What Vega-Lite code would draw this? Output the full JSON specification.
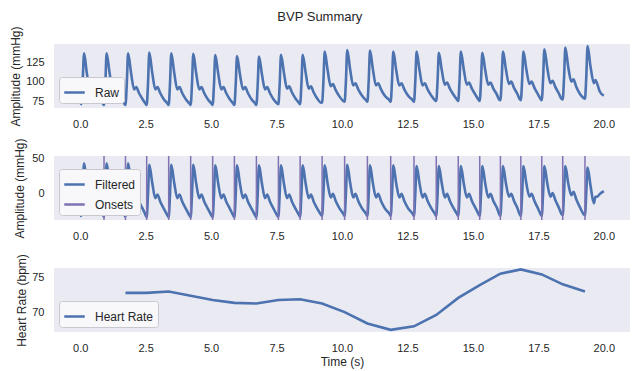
{
  "$schema": "https://vega.github.io/schema/vega-lite/v6.json",
  "background": "white",
  "padding": {"left": 9, "top": 10, "right": 5, "bottom": 5},
  "title": {"text": "BVP Summary", "fontSize": 13, "font": "Liberation Sans", "fontWeight": "normal", "color": "#262626", "anchor": "middle", "frame": "bounds", "offset": 2},
  "config": {
    "font": "Liberation Sans",
    "view": {"fill": "#EAEAF2", "stroke": null},
    "axis": {"domain": false, "ticks": false, "grid": false, "labelFont": "Liberation Sans", "labelFontSize": 11, "labelColor": "#262626", "titleFont": "Liberation Sans", "titleFontSize": 12, "titleFontWeight": "normal", "titleColor": "#262626", "labelPadding": 10},
    "legend": {"orient": "bottom-left", "offset": 5, "fillColor": "#F8F8FB", "strokeColor": "#C8C8CE", "cornerRadius": 3, "padding": 4, "labelFontSize": 12, "labelFont": "Liberation Sans", "labelColor": "#262626", "symbolType": "stroke", "symbolSize": 420, "symbolStrokeWidth": 2.5, "labelOffset": 9, "rowPadding": 2}
  },
  "datasets": {
    "bvp": [
      {"t":0.00,"r":73,"f":-28},{"t":0.04,"r":71,"f":-31},{"t":0.09,"r":97,"f":3},{"t":0.15,"r":136.6,"f":43},{"t":0.25,"r":112,"f":16},{"t":0.37,"r":90,"f":-6},{"t":0.45,"r":93,"f":-1},{"t":0.56,"r":85,"f":-11},{"t":0.70,"r":77,"f":-21},{"t":0.86,"r":72,"f":-29},
      {"t":0.91,"r":70,"f":-32},{"t":0.96,"r":97,"f":0},{"t":1.01,"r":136.6,"f":43},{"t":1.12,"r":112,"f":16},{"t":1.24,"r":90,"f":-6},{"t":1.32,"r":93,"f":-1},{"t":1.43,"r":85,"f":-11},{"t":1.57,"r":77,"f":-21},{"t":1.68,"r":72,"f":-29},
      {"t":1.73,"r":70,"f":-32},{"t":1.78,"r":97,"f":0},{"t":1.83,"r":136.6,"f":43},{"t":1.94,"r":112,"f":16},{"t":2.06,"r":90,"f":-6},{"t":2.14,"r":93,"f":-1},{"t":2.25,"r":85,"f":-11},{"t":2.39,"r":77,"f":-21},{"t":2.49,"r":72,"f":-29},
      {"t":2.54,"r":70,"f":-33},{"t":2.59,"r":97,"f":-1},{"t":2.64,"r":137.5,"f":41},{"t":2.75,"r":112,"f":16},{"t":2.87,"r":90,"f":-6},{"t":2.95,"r":93,"f":-1},{"t":3.06,"r":85,"f":-11},{"t":3.20,"r":77,"f":-21},{"t":3.33,"r":72,"f":-30},
      {"t":3.38,"r":70,"f":-33},{"t":3.43,"r":97,"f":-1},{"t":3.48,"r":136.6,"f":41},{"t":3.59,"r":112,"f":16},{"t":3.71,"r":90,"f":-6},{"t":3.79,"r":93,"f":-1},{"t":3.90,"r":85,"f":-11},{"t":4.04,"r":77,"f":-21},{"t":4.17,"r":72,"f":-30},
      {"t":4.22,"r":70,"f":-33},{"t":4.27,"r":97,"f":-1},{"t":4.32,"r":135.8,"f":41},{"t":4.43,"r":111,"f":15},{"t":4.55,"r":90,"f":-6},{"t":4.63,"r":93,"f":-1},{"t":4.74,"r":85,"f":-11},{"t":4.88,"r":77,"f":-21},{"t":5.01,"r":72,"f":-30},
      {"t":5.06,"r":70,"f":-33},{"t":5.11,"r":96,"f":-1},{"t":5.16,"r":134.5,"f":40},{"t":5.27,"r":111,"f":15},{"t":5.39,"r":90,"f":-6},{"t":5.47,"r":93,"f":-1},{"t":5.58,"r":85,"f":-11},{"t":5.72,"r":77,"f":-21},{"t":5.84,"r":72,"f":-30},
      {"t":5.89,"r":70,"f":-33},{"t":5.94,"r":96,"f":-1},{"t":5.99,"r":133.2,"f":40},{"t":6.10,"r":110,"f":15},{"t":6.22,"r":90,"f":-6},{"t":6.30,"r":93,"f":-1},{"t":6.41,"r":85,"f":-11},{"t":6.55,"r":77,"f":-21},{"t":6.68,"r":72,"f":-30},
      {"t":6.73,"r":70,"f":-33},{"t":6.78,"r":96,"f":-1},{"t":6.83,"r":132.3,"f":40},{"t":6.94,"r":110,"f":15},{"t":7.06,"r":90,"f":-6},{"t":7.14,"r":93,"f":-1},{"t":7.25,"r":85,"f":-11},{"t":7.39,"r":77,"f":-21},{"t":7.52,"r":72,"f":-30},
      {"t":7.57,"r":71,"f":-32},{"t":7.62,"r":97,"f":0},{"t":7.67,"r":134.5,"f":40},{"t":7.78,"r":112,"f":15},{"t":7.90,"r":91,"f":-6},{"t":7.98,"r":94,"f":-1},{"t":8.09,"r":86,"f":-11},{"t":8.23,"r":78,"f":-21},{"t":8.35,"r":73,"f":-29},
      {"t":8.40,"r":71,"f":-32},{"t":8.45,"r":97,"f":0},{"t":8.50,"r":134.5,"f":40},{"t":8.61,"r":112,"f":15},{"t":8.73,"r":91,"f":-6},{"t":8.81,"r":94,"f":-1},{"t":8.92,"r":86,"f":-11},{"t":9.06,"r":78,"f":-21},{"t":9.19,"r":73,"f":-29},
      {"t":9.24,"r":73,"f":-31},{"t":9.29,"r":100,"f":0},{"t":9.34,"r":138.7,"f":40},{"t":9.45,"r":115,"f":15},{"t":9.57,"r":94,"f":-5},{"t":9.65,"r":97,"f":0},{"t":9.76,"r":89,"f":-10},{"t":9.90,"r":81,"f":-20},{"t":10.05,"r":75,"f":-28},
      {"t":10.10,"r":74,"f":-31},{"t":10.15,"r":101,"f":1},{"t":10.20,"r":140.9,"f":41},{"t":10.31,"r":116,"f":16},{"t":10.43,"r":95,"f":-5},{"t":10.51,"r":98,"f":0},{"t":10.62,"r":90,"f":-10},{"t":10.76,"r":82,"f":-20},{"t":10.92,"r":76,"f":-28},
      {"t":10.97,"r":74,"f":-31},{"t":11.02,"r":101,"f":0},{"t":11.07,"r":140,"f":40},{"t":11.18,"r":116,"f":15},{"t":11.30,"r":95,"f":-5},{"t":11.38,"r":98,"f":0},{"t":11.49,"r":90,"f":-10},{"t":11.63,"r":82,"f":-20},{"t":11.81,"r":76,"f":-28},
      {"t":11.86,"r":74,"f":-31},{"t":11.91,"r":101,"f":0},{"t":11.96,"r":138.7,"f":40},{"t":12.07,"r":115,"f":15},{"t":12.19,"r":95,"f":-5},{"t":12.27,"r":98,"f":0},{"t":12.38,"r":90,"f":-10},{"t":12.52,"r":82,"f":-20},{"t":12.70,"r":76,"f":-28},
      {"t":12.75,"r":74,"f":-31},{"t":12.80,"r":101,"f":0},{"t":12.85,"r":138.7,"f":39},{"t":12.96,"r":115,"f":15},{"t":13.08,"r":95,"f":-5},{"t":13.16,"r":98,"f":0},{"t":13.27,"r":90,"f":-10},{"t":13.41,"r":82,"f":-20},{"t":13.55,"r":76,"f":-28},
      {"t":13.60,"r":75,"f":-31},{"t":13.65,"r":101,"f":0},{"t":13.70,"r":137.4,"f":39},{"t":13.81,"r":115,"f":15},{"t":13.93,"r":96,"f":-5},{"t":14.01,"r":99,"f":0},{"t":14.12,"r":91,"f":-10},{"t":14.26,"r":83,"f":-20},{"t":14.39,"r":77,"f":-28},
      {"t":14.44,"r":75,"f":-31},{"t":14.49,"r":102,"f":0},{"t":14.54,"r":138.7,"f":39},{"t":14.65,"r":116,"f":15},{"t":14.77,"r":96,"f":-5},{"t":14.85,"r":99,"f":0},{"t":14.96,"r":91,"f":-10},{"t":15.10,"r":83,"f":-20},{"t":15.21,"r":77,"f":-28},
      {"t":15.26,"r":75,"f":-31},{"t":15.31,"r":101,"f":0},{"t":15.36,"r":137.4,"f":39},{"t":15.47,"r":115,"f":15},{"t":15.59,"r":96,"f":-5},{"t":15.67,"r":99,"f":0},{"t":15.78,"r":91,"f":-10},{"t":15.92,"r":83,"f":-20},{"t":16.00,"r":77,"f":-28},
      {"t":16.05,"r":76,"f":-31},{"t":16.10,"r":102,"f":0},{"t":16.15,"r":138.7,"f":39},{"t":16.26,"r":116,"f":15},{"t":16.38,"r":97,"f":-4},{"t":16.46,"r":100,"f":0},{"t":16.57,"r":92,"f":-10},{"t":16.70,"r":84,"f":-20},{"t":16.78,"r":78,"f":-28},
      {"t":16.83,"r":76,"f":-31},{"t":16.88,"r":102,"f":0},{"t":16.93,"r":138.7,"f":39},{"t":17.04,"r":116,"f":15},{"t":17.16,"r":97,"f":-4},{"t":17.24,"r":100,"f":0},{"t":17.35,"r":92,"f":-10},{"t":17.48,"r":84,"f":-20},{"t":17.58,"r":78,"f":-28},
      {"t":17.63,"r":76,"f":-31},{"t":17.68,"r":103,"f":0},{"t":17.73,"r":141.7,"f":39},{"t":17.84,"r":118,"f":15},{"t":17.96,"r":98,"f":-4},{"t":18.04,"r":101,"f":1},{"t":18.15,"r":93,"f":-9},{"t":18.28,"r":85,"f":-19},{"t":18.38,"r":78,"f":-28},
      {"t":18.43,"r":77,"f":-30},{"t":18.48,"r":104,"f":1},{"t":18.53,"r":143.9,"f":39},{"t":18.64,"r":119,"f":15},{"t":18.76,"r":100,"f":-2},{"t":18.84,"r":103,"f":3},{"t":18.95,"r":93,"f":-8},{"t":19.09,"r":84,"f":-19},{"t":19.22,"r":79,"f":-28},
      {"t":19.28,"r":78,"f":-30},{"t":19.33,"r":106,"f":2},{"t":19.38,"r":146,"f":37},{"t":19.49,"r":120,"f":12},{"t":19.62,"r":98,"f":-13},{"t":19.68,"r":102,"f":-4},{"t":19.75,"r":97,"f":-4},{"t":19.85,"r":87,"f":0},{"t":20.00,"r":82,"f":4}
    ],
    "onsets": [
      {"t":0.91},{"t":1.73},{"t":2.54},{"t":3.38},{"t":4.22},{"t":5.06},{"t":5.89},{"t":6.73},{"t":7.57},{"t":8.40},{"t":9.24},{"t":10.10},{"t":10.97},{"t":11.86},{"t":12.75},{"t":13.60},{"t":14.44},{"t":15.26},{"t":16.05},{"t":16.83},{"t":17.63},{"t":18.43},{"t":19.28}
    ],
    "hr": [
      {"t":1.73,"hr":72.8},{"t":2.54,"hr":72.8},{"t":3.38,"hr":73.0},{"t":4.22,"hr":72.4},{"t":5.06,"hr":71.8},{"t":5.89,"hr":71.4},{"t":6.73,"hr":71.3},{"t":7.57,"hr":71.8},{"t":8.40,"hr":71.9},{"t":9.24,"hr":71.3},{"t":10.10,"hr":70.1},{"t":10.97,"hr":68.5},{"t":11.86,"hr":67.6},{"t":12.75,"hr":68.1},{"t":13.60,"hr":69.7},{"t":14.44,"hr":72.1},{"t":15.26,"hr":73.9},{"t":16.05,"hr":75.5},{"t":16.83,"hr":76.1},{"t":17.63,"hr":75.4},{"t":18.43,"hr":74.0},{"t":19.28,"hr":73.0}
    ]
  },
  "spacing": 48,
  "bounds": "flush",
  "resolve": {"scale": {"color": "independent", "x": "independent", "y": "independent"}, "legend": {"color": "independent"}},
  "vconcat": [
    {
      "width": 576, "height": 64,
      "data": {"name": "bvp"},
      "mark": {"type": "line", "strokeWidth": 2.6, "interpolate": "monotone"},
      "encoding": {
        "x": {"field": "t", "type": "quantitative", "scale": {"domain": [-1, 21], "nice": false, "zero": false}, "axis": {"values": [0, 2.5, 5, 7.5, 10, 12.5, 15, 17.5, 20], "format": ".1f", "title": null}},
        "y": {"field": "r", "type": "quantitative", "scale": {"domain": [66, 148.6], "nice": false, "zero": false}, "axis": {"values": [75, 100, 125], "title": "Amplitude (mmHg)", "titlePadding": 3}},
        "color": {"datum": "Raw", "type": "nominal", "scale": {"domain": ["Raw"], "range": ["#4C72B0"]}, "legend": {"title": null}}
      }
    },
    {
      "width": 576, "height": 64,
      "layer": [
        {
          "data": {"name": "bvp"},
          "mark": {"type": "line", "strokeWidth": 2.6, "interpolate": "monotone"},
          "encoding": {
            "x": {"field": "t", "type": "quantitative", "scale": {"domain": [-1, 21], "nice": false, "zero": false}, "axis": {"values": [0, 2.5, 5, 7.5, 10, 12.5, 15, 17.5, 20], "format": ".1f", "title": null}},
            "y": {"field": "f", "type": "quantitative", "scale": {"domain": [-36.7, 53.2], "nice": false, "zero": false}, "axis": {"values": [0, 50], "title": "Amplitude (mmHg)", "titlePadding": 5}},
            "color": {"datum": "Filtered", "type": "nominal", "scale": {"domain": ["Filtered", "Onsets"], "range": ["#4C72B0", "#8172B3"]}, "legend": {"title": null}}
          }
        },
        {
          "data": {"name": "onsets"},
          "mark": {"type": "rule", "strokeWidth": 1.5},
          "encoding": {
            "x": {"field": "t", "type": "quantitative"},
            "color": {"datum": "Onsets", "type": "nominal"}
          }
        }
      ]
    },
    {
      "width": 576, "height": 64,
      "data": {"name": "hr"},
      "mark": {"type": "line", "strokeWidth": 2.6},
      "encoding": {
        "x": {"field": "t", "type": "quantitative", "scale": {"domain": [-1, 21], "nice": false, "zero": false}, "axis": {"values": [0, 2.5, 5, 7.5, 10, 12.5, 15, 17.5, 20], "format": ".1f", "title": "Time (s)", "titlePadding": 3}},
        "y": {"field": "hr", "type": "quantitative", "scale": {"domain": [67.3, 76.3], "nice": false, "zero": false}, "axis": {"values": [70, 75], "title": "Heart Rate (bpm)", "titlePadding": 3}},
        "color": {"datum": "Heart Rate", "type": "nominal", "scale": {"domain": ["Heart Rate"], "range": ["#4C72B0"]}, "legend": {"title": null}}
      }
    }
  ]
}
